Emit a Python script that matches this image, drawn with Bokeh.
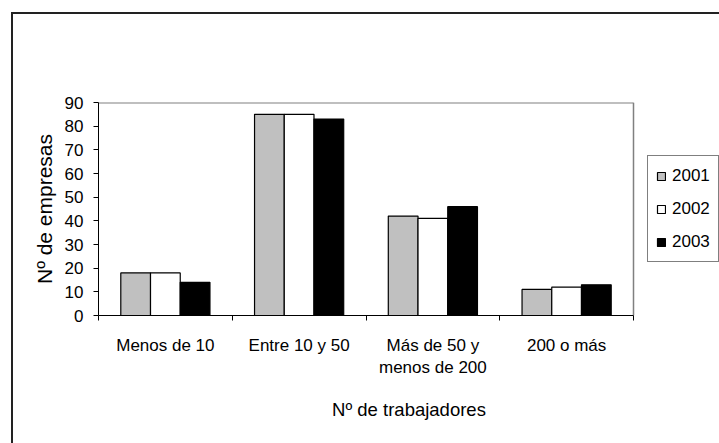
from bokeh.plotting import figure
from bokeh.models import (FixedTicker, Legend, LegendItem,
                          Range1d, ColumnDataSource)
from bokeh.transform import dodge
from bokeh.embed import file_html
from bokeh.resources import INLINE

# ---- data ----
categories = ["Menos de 10", "Entre 10 y 50", "Más de 50 y\nmenos de 200", "200 o más"]
years = ["2001", "2002", "2003"]
v2001 = [18, 85, 42, 11]
v2002 = [18, 85, 41, 12]
v2003 = [14, 83, 46, 13]
y_ticks = [0, 10, 20, 30, 40, 50, 60, 70, 80, 90]
y_max = 90
x_title = "Nº de trabajadores"
y_title = "Nº de empresas"

FONT = "Liberation Sans"
colors = ["#C0C0C0", "#FFFFFF", "#000000"]

n = len(categories)
centers = [i + 0.5 for i in range(n)]
bounds = [float(i) for i in range(n + 1)]
src = ColumnDataSource(dict(x=centers, y2001=v2001, y2002=v2002, y2003=v2003))

# layout (pixels)
W, H = 719, 443
LEFT, TOP, BOTTOM = 98, 102, 128
PLOT_W = 535                     # width of the bar area
frame_w = W - LEFT               # frame stretches to the right edge, legend sits in it
x_end = n * frame_w / PLOT_W

# outer chart border: only its top and left edges fall inside the window
outer_border_css = ("linear-gradient(#222,#222) 11px 12px / 2px 100% no-repeat, "
                    "linear-gradient(#222,#222) 11px 12px / 100% 2px no-repeat, #ffffff")

p = figure(width=W, height=H,
           x_range=Range1d(0, x_end), y_range=Range1d(0, y_max),
           output_backend="svg", toolbar_location=None,
           min_border_left=LEFT, min_border_right=0,
           min_border_top=TOP, min_border_bottom=BOTTOM,
           styles={"background": outer_border_css})
p.xgrid.visible = False
p.ygrid.visible = False
p.outline_line_color = None
p.background_fill_alpha = 0
p.border_fill_alpha = 0

# gray plot-area border (top and right)
p.segment(x0=[0, n], y0=[y_max, 0], x1=[n, n], y1=[y_max, y_max],
          line_color="#808080", line_width=[2, 1.5])

bw = 1 / 4.5
renderers = []
for k, (yr, col) in enumerate(zip(years, colors)):
    r = p.vbar(x=dodge("x", (k - 1) * bw, range=p.x_range), top="y" + yr,
               width=bw, bottom=0, source=src,
               fill_color=col, line_color="black", line_width=1.2)
    renderers.append(r)

# x axis
xa = p.xaxis[0]
xa.bounds = (0, n)
xa.ticker = FixedTicker(ticks=centers, minor_ticks=bounds)
xa.major_label_overrides = {c: lab for c, lab in zip(centers, categories)}
xa.major_tick_out = 0
xa.major_tick_in = 0
xa.minor_tick_out = 5
xa.minor_tick_in = 0
xa.minor_tick_line_color = "black"
xa.axis_line_color = "black"
xa.major_label_standoff = 15
xa.axis_label = x_title
xa.axis_label_standoff = 19
xa.axis_label_text_font = FONT
xa.axis_label_text_font_size = "18.5px"
xa.axis_label_text_font_style = "normal"
xa.axis_label_text_color = "black"
xa.major_label_text_font = FONT
xa.major_label_text_font_size = "17px"
xa.major_label_text_color = "black"

# y axis
ya = p.yaxis[0]
ya.ticker = FixedTicker(ticks=y_ticks)
ya.major_tick_out = 5
ya.major_tick_in = 0
ya.minor_tick_out = 0
ya.minor_tick_in = 0
ya.major_tick_line_color = "black"
ya.axis_line_color = "black"
ya.major_label_standoff = 10
ya.axis_label = y_title
ya.axis_label_standoff = 6
ya.axis_label_text_font = FONT
ya.axis_label_text_font_size = "21px"
ya.axis_label_text_font_style = "normal"
ya.axis_label_text_color = "black"
ya.major_label_text_font = FONT
ya.major_label_text_font_size = "17px"
ya.major_label_text_color = "black"

# legend (placed in the frame area right of the bars)
legend = Legend(items=[LegendItem(label=yr, renderers=[r]) for yr, r in zip(years, renderers)],
                location=(549, 53), orientation="vertical")
legend.glyph_width = 10
legend.glyph_height = 10
legend.label_height = 23
legend.spacing = 10
legend.padding = 8
legend.margin = 0
legend.label_standoff = 6
legend.label_text_font = FONT
legend.label_text_font_size = "17px"
legend.label_text_color = "black"
legend.border_line_color = "black"
legend.border_line_width = 1
legend.background_fill_color = "white"
legend.background_fill_alpha = 1
p.add_layout(legend, "center")

open("out.html", "w").write(file_html(p, INLINE))
